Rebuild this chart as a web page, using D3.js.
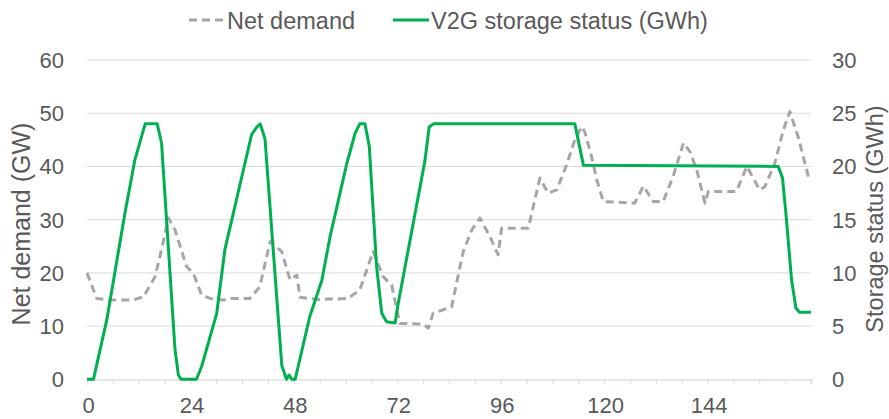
<!DOCTYPE html>
<html>
<head>
<meta charset="utf-8">
<script src="https://cdn.jsdelivr.net/npm/d3@7"></script>
<style>
  body { margin: 0; background: #fff; }
  svg text { font-family: "Liberation Sans", Arial, sans-serif; fill: #595959; }
</style>
</head>
<body>
<svg id="chart" width="889" height="419"></svg>
<script>
// hours and values
const demandHours = [0, 2.25, 5.3, 10.7, 13.1, 15.8, 16.9, 18.9, 20.4, 23.1, 24.7, 26.6, 29.3, 32.4, 33.6, 37.8,
  40.1, 42.5, 45.2, 47.1, 48.7, 49.4, 54.8, 55.6, 57.9, 60.6, 63.3, 66.4, 68.7, 70.7, 71.9, 72.6,
  78, 79.2, 80.3, 83.5, 84.6, 87.3, 89.3, 91.2, 93.5, 95.4, 96.2, 102.4, 103.9, 105.1, 107, 109,
  111.3, 113.2, 114.8, 115.5, 117.1, 118.3, 119.8, 127.1, 129.1, 131.4, 133.7, 136, 138.4, 139.9,
  141.5, 143.4, 144.2, 150.7, 153.1, 156.1, 157.3, 159.6, 161.6, 163.1, 165, 167.4];
const demandValues = [20, 15.2, 14.9, 14.9, 15.5, 19.3, 23, 30.3, 28.1, 21.2, 19.9, 15.8, 15, 14.9, 15.2, 15.2,
  17.4, 25.9, 24, 18.7, 19.6, 15.4, 14.9, 15.1, 15.1, 15.2, 16.8, 24, 19.3, 17.7, 13, 10.5,
  10.4, 9.6, 12.4, 13.3, 13.6, 24, 28.1, 30.3, 26.8, 23.4, 28.4, 28.4, 33.7, 37.8, 35, 35.6,
  40.3, 45, 47.5, 46.5, 41.8, 37.5, 33.4, 33.1, 36.3, 33.4, 33.4, 38.1, 44.4, 42.8,
  39.3, 33.1, 35.3, 35.3, 40, 35.6, 36.2, 40.6, 46.9, 50.3, 45.6, 38.1];

const storageHours = [0, 1.5, 4.6, 8.8, 11.1, 13.5, 16.3, 17.3, 20.4, 21.2, 21.8, 25.4, 26.6, 30.1, 32, 34.3,
  38.2, 39.4, 40.2, 41.3, 45.2, 46.3, 46.9, 47.5, 48.3, 51.7, 54.5, 56.4, 60.3, 62.2, 63.3, 64.5,
  65.5, 67.2, 68.4, 69.5, 71.5, 72.2, 78.4, 79.4, 80.4, 113.2, 115.2, 160.4, 161.4, 162.3, 163.5,
  164.5, 165.3, 168];
const storageValues = [0, 0, 5.6, 15.6, 20.6, 24, 24, 22.2, 2.9, 0.4, 0, 0, 1.2, 6.2, 12.2, 16.2,
  23, 23.7, 24, 22.6, 1.3, 0, 0.4, 0, 0, 5.9, 9.3, 13.4, 20.3, 23.1, 24, 24,
  21.9, 10.6, 6.2, 5.4, 5.3, 7.1, 20.5, 23.7, 24, 24, 20.1, 20, 18.9, 15,
  9.3, 6.7, 6.3, 6.3];

const xLabels = [0, 24, 48, 72, 96, 120, 144];
const leftTicks = [0, 10, 20, 30, 40, 50, 60];
const rightTicks = [0, 5, 10, 15, 20, 25, 30];

const svg = d3.select('#chart');
const margin = { left: 87, right: 78, top: 60, bottom: 40 };
const width = 889, height = 419;

const x = d3.scaleLinear().domain([0, 168]).range([margin.left, width - margin.right]);
const yLeft = d3.scaleLinear().domain([0, 60]).range([379.3, margin.top]);
const yRight = d3.scaleLinear().domain([0, 30]).range([379.3, margin.top]);

// gridlines
svg.append('g')
  .selectAll('line')
  .data(leftTicks.slice(1))
  .join('line')
  .attr('x1', x(0)).attr('x2', x(168))
  .attr('y1', d => yLeft(d)).attr('y2', d => yLeft(d))
  .attr('stroke', '#d9d9d9').attr('stroke-width', 1);

// x axis: minor ticks every 6 h, labels every 24 h
const xAxis = svg.append('g').attr('transform', `translate(0,${yLeft(0)})`)
  .call(d3.axisBottom(x).tickValues(d3.range(0, 169, 6)).tickSize(5).tickFormat(''));
xAxis.select('.domain').attr('stroke', '#d9d9d9').attr('stroke-width', 1.3);
xAxis.selectAll('.tick line').attr('stroke', '#d9d9d9');

svg.append('g')
  .selectAll('text')
  .data(xLabels)
  .join('text')
  .attr('x', d => x(d) + 1.5)
  .attr('y', yLeft(0) + 34)
  .attr('text-anchor', 'middle')
  .style('font-size', '22px')
  .text(d => d);

// left & right tick labels
svg.append('g')
  .selectAll('text')
  .data(leftTicks)
  .join('text')
  .attr('x', 64)
  .attr('y', d => yLeft(d) + 8)
  .attr('text-anchor', 'end')
  .style('font-size', '22px')
  .text(d => d);

svg.append('g')
  .selectAll('text')
  .data(rightTicks)
  .join('text')
  .attr('x', 832)
  .attr('y', d => yRight(d) + 8)
  .attr('text-anchor', 'start')
  .style('font-size', '22px')
  .text(d => d);

// axis titles
svg.append('text')
  .attr('transform', 'translate(30,224) rotate(-90)')
  .attr('text-anchor', 'middle')
  .style('font-size', '25px')
  .text('Net demand (GW)');

svg.append('text')
  .attr('transform', 'translate(883,219) rotate(-90)')
  .attr('text-anchor', 'middle')
  .style('font-size', '23.5px')
  .text('Storage status (GWh)');

// lines
const demandLine = d3.line().x((d, i) => x(demandHours[i])).y(d => yLeft(d));
const storageLine = d3.line().x((d, i) => x(storageHours[i])).y(d => yRight(d));

svg.append('path')
  .datum(demandValues)
  .attr('d', demandLine)
  .attr('fill', 'none')
  .attr('stroke', '#a6a6a6')
  .attr('stroke-width', 3)
  .attr('stroke-dasharray', '8,5')
  .attr('stroke-linejoin', 'round');

svg.append('path')
  .datum(storageValues)
  .attr('d', storageLine)
  .attr('fill', 'none')
  .attr('stroke', '#00b050')
  .attr('stroke-width', 3)
  .attr('stroke-linejoin', 'round');

// legend
const legend = svg.append('g');
legend.append('line')
  .attr('x1', 189).attr('x2', 225).attr('y1', 20).attr('y2', 20)
  .attr('stroke', '#a6a6a6').attr('stroke-width', 3).attr('stroke-dasharray', '8,5');
legend.append('text')
  .attr('x', 227).attr('y', 28.5)
  .style('font-size', '23.5px')
  .text('Net demand');
legend.append('line')
  .attr('x1', 393).attr('x2', 429).attr('y1', 20).attr('y2', 20)
  .attr('stroke', '#00b050').attr('stroke-width', 3);
legend.append('text')
  .attr('x', 431).attr('y', 28.5)
  .style('font-size', '23.5px')
  .text('V2G storage status (GWh)');
</script>
</body>
</html>
